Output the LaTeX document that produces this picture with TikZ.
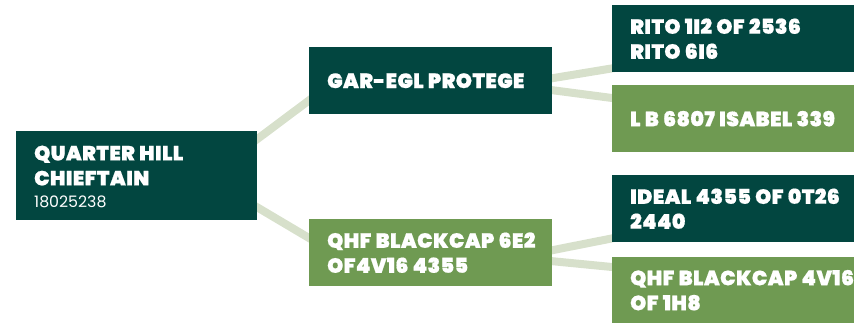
\documentclass[tikz,border=0pt]{standalone}
\usepackage{fontspec}
\setmainfont{Poppins}
\newfontfamily\heavy{Poppins Black}[LetterSpace=2, WordSpace=1.1, FakeBold=0.6]
\usetikzlibrary{backgrounds}
\definecolor{darkg}{HTML}{024640}
\definecolor{lightg}{HTML}{6F9A52}
\definecolor{connc}{HTML}{D7E0CB}
\tikzset{
  box/.style={rectangle, anchor=north west, inner sep=0pt},
  darkbox/.style={box, fill=darkg},
  lightbox/.style={box, fill=lightg},
  txt/.style={anchor=west, xshift=18pt, inner sep=0pt, align=left, text=white,
    font=\heavy\fontsize{20.5}{25}\selectfont},
  conn/.style={draw=connc, line width=8pt, shorten <=-12pt, shorten >=-12pt}
}
\begin{document}
\begin{tikzpicture}[x=1pt,y=-1pt]
\useasboundingbox (0,0) rectangle (854,323);
\node[darkbox, minimum width=241pt, minimum height=89pt,
  label={[txt, yshift=-1pt]west:QUARTER HILL\\CHIEFTAIN\\[-3pt]{\fontsize{15.8}{17}\selectfont\normalfont 18025238}}] (root) at (16,131) {};
\node[darkbox, minimum width=243pt, minimum height=67pt, label={[txt]west:GAR-EGL PROTEGE}] (gar) at (309,47) {};
\node[lightbox, minimum width=243pt, minimum height=67pt, label={[txt]west:QHF BLACKCAP 6E2\\OF4V16 4355}] (qhfa) at (309,219) {};
\node[darkbox, minimum width=242pt, minimum height=67pt, label={[txt]west:RITO 1I2 OF 2536\\RITO 6I6}] (rito) at (612,5) {};
\node[lightbox, minimum width=242pt, minimum height=67pt, label={[txt]west:L B 6807 ISABEL 339}] (lb) at (612,85) {};
\node[darkbox, minimum width=242pt, minimum height=67pt, label={[txt]west:IDEAL 4355 OF 0T26\\2440}] (ideal) at (612,175) {};
\node[lightbox, minimum width=242pt, minimum height=66pt, label={[txt]west:QHF BLACKCAP 4V16\\OF 1H8}] (qhfb) at (612,257) {};
\begin{scope}[on background layer]
\draw[conn] ([shift={(0,8)}]root.north east) -- ([shift={(0,-14)}]gar.south west);
\draw[conn] ([shift={(0,-13)}]root.south east) -- ([shift={(0,19)}]qhfa.north west);
\draw[conn] ([shift={(0,-2.5)}]gar.east) -- ([shift={(0,-4)}]rito.south west);
\draw[conn] ([shift={(0,9.5)}]gar.east) -- ([shift={(0,13)}]lb.north west);
\draw[conn] ([shift={(0,-2.5)}]qhfa.east) -- ([shift={(0,-4)}]ideal.south west);
\draw[conn] ([shift={(0,8.5)}]qhfa.east) -- ([shift={(0,10)}]qhfb.north west);
\end{scope}
\end{tikzpicture}
\end{document}
